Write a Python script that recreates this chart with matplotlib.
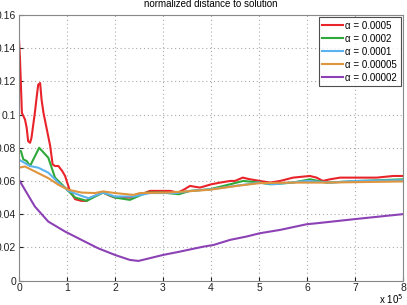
import matplotlib
matplotlib.use("Agg")
import matplotlib.pyplot as plt

# x in units of 1e5
red_x = [0, 0.02, 0.06, 0.125, 0.16, 0.19, 0.23, 0.26, 0.33, 0.37, 0.40, 0.44, 0.47, 0.51, 0.58, 0.65, 0.70,
         0.75, 0.82, 0.90, 0.96, 1.06, 1.17, 1.3, 1.41, 1.5, 1.58, 1.75, 1.9, 2.0, 2.2, 2.38, 2.55, 2.73, 2.9,
         3.15, 3.31, 3.45, 3.56, 3.77, 4.01, 4.19, 4.4, 4.5, 4.66, 4.81, 5.02, 5.23, 5.44, 5.71, 6.06, 6.2,
         6.33, 6.48, 6.69, 7.1, 7.45, 7.8, 8.0]
red_y = [0.145, 0.134, 0.101, 0.097, 0.092, 0.084, 0.083, 0.086, 0.101, 0.111, 0.118, 0.119, 0.109, 0.101,
         0.091, 0.081, 0.070, 0.069, 0.069, 0.066, 0.063, 0.054, 0.049, 0.048, 0.048, 0.050, 0.051, 0.053,
         0.051, 0.050, 0.050, 0.050, 0.052, 0.054, 0.054, 0.054, 0.053, 0.055, 0.057, 0.056, 0.058, 0.059,
         0.060, 0.060, 0.062, 0.061, 0.060, 0.059, 0.060, 0.062, 0.063, 0.062, 0.060, 0.061, 0.062, 0.062,
         0.062, 0.063, 0.063]

green_x = [0, 0.04, 0.09, 0.16, 0.23, 0.42, 0.61, 0.75, 0.89, 1.06, 1.17, 1.41, 1.75, 2.0, 2.31, 2.66, 3.0,
           3.33, 3.56, 3.98, 4.4, 4.67, 5.02, 5.23, 5.71, 6.06, 6.41, 7.1, 8.0]
green_y = [0.078, 0.078, 0.073, 0.072, 0.069, 0.080, 0.074, 0.062, 0.058, 0.053, 0.050, 0.048, 0.053, 0.050,
           0.0486, 0.053, 0.053, 0.052, 0.054, 0.055, 0.058, 0.060, 0.059, 0.058, 0.059, 0.061, 0.059, 0.060,
           0.061]

blue_x = [0, 0.23, 0.4, 0.61, 0.82, 1.03, 1.3, 1.45, 1.75, 2.0, 2.38, 2.73, 3.28, 3.49, 4.0, 4.5, 5.0, 5.3,
          6.0, 6.5, 7.0, 8.0]
blue_y = [0.0728, 0.069, 0.068, 0.065, 0.059, 0.054, 0.051, 0.0496, 0.053, 0.0506, 0.0506, 0.0527, 0.0527,
          0.0537, 0.055, 0.057, 0.059, 0.058, 0.060, 0.059, 0.060, 0.0605]

orange_x = [0, 0.125, 0.4, 0.61, 0.82, 1.03, 1.3, 1.58, 1.75, 2.0, 2.38, 2.52, 3.08, 3.49, 3.98, 4.53, 5.02,
            5.7, 6.41, 8.0]
orange_y = [0.068, 0.0687, 0.0647, 0.0617, 0.0577, 0.0547, 0.053, 0.0527, 0.0537, 0.0527, 0.0516, 0.0527,
            0.053, 0.0537, 0.0547, 0.057, 0.0587, 0.059, 0.059, 0.0597]

purple_x = [0, 0.33, 0.61, 0.96, 1.3, 1.65, 2.0, 2.31, 2.49, 3.0, 3.35, 3.84, 4.05, 4.4, 4.74, 5.02, 5.44,
            5.99, 6.2, 7.03, 8.0]
purple_y = [0.0607, 0.0446, 0.0355, 0.0295, 0.0245, 0.0194, 0.0154, 0.0124, 0.0118, 0.0154, 0.0174, 0.0204,
            0.0214, 0.0245, 0.0265, 0.0285, 0.0305, 0.0339, 0.0345, 0.0371, 0.040]

labels = ["α = 0.0005", "α = 0.0002", "α = 0.0001", "α = 0.00005", "α = 0.00002"]
colors = ["#e8232a", "#2ea838", "#5ab3ee", "#de953d", "#8c42b5"]
xticks = [0, 1, 2, 3, 4, 5, 6, 7, 8]
yticks = [0, 0.02, 0.04, 0.06, 0.08, 0.1, 0.12, 0.14, 0.16]
ytick_labels = ["0", "0.02", "0.04", "0.06", "0.08", "0.1", "0.12", "0.14", "0.16"]

plt.rcParams['font.family'] = ['Liberation Sans', 'DejaVu Sans']
fig = plt.figure(figsize=(4.07, 3.05), dpi=100)
ax = fig.add_axes([0.0467, 0.0803, 0.9435, 0.8705])

series = [(red_x, red_y), (green_x, green_y), (blue_x, blue_y), (orange_x, orange_y), (purple_x, purple_y)]
for (xs, ys), c, lab in zip(series, colors, labels):
    ax.plot(xs, ys, color=c, lw=1.5, label=lab)

ax.set_xlim(0, 8)
ax.set_ylim(0, 0.16)
ax.set_xticks(xticks)
ax.set_xticklabels([str(t) for t in xticks])
ax.set_yticks(yticks)
ax.set_yticklabels(ytick_labels)
ax.tick_params(direction='in', length=3, labelsize=7.5, pad=2, colors='#222222')
ax.grid(True, linestyle=(0, (1, 2.5)), color='#aaaaaa', lw=0.8)
for s in ax.spines.values():
    s.set_color('#888888')
    s.set_linewidth(0.8)
ax.set_title("normalized distance to solution", fontsize=7, pad=6)
ax.text(1.0, -0.045, "x 10$^5$", transform=ax.transAxes, ha='right', va='top', fontsize=7)

leg = ax.legend(loc='upper right', fontsize=7, frameon=True, fancybox=False, handlelength=2.1,
                borderaxespad=0.25, labelspacing=0.3, handletextpad=0.3, borderpad=0.35)
leg.get_frame().set_edgecolor('#222222')
leg.get_frame().set_linewidth(0.8)

fig.savefig("out.png", dpi=100)
